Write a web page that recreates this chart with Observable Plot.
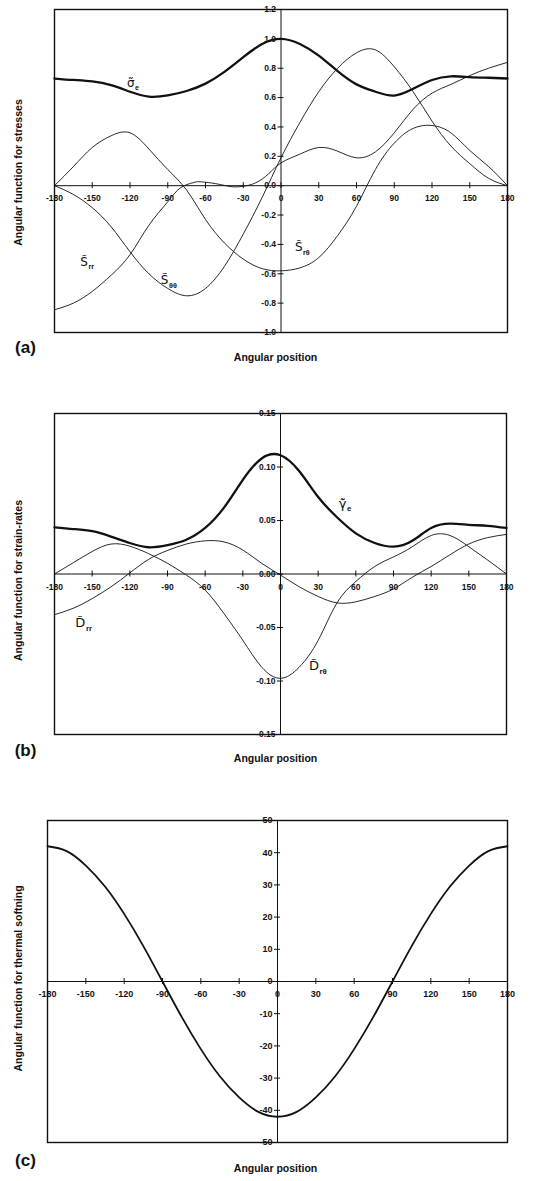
<!DOCTYPE html>
<html><head><meta charset="utf-8">
<script src="https://cdn.jsdelivr.net/npm/d3@7"></script>
<script src="https://cdn.jsdelivr.net/npm/@observablehq/plot@0.6"></script>
<style>
body{margin:0;background:#fff;font-family:"Liberation Sans",Arial,sans-serif;}
#wrap{width:549px;}
#wrap svg{display:block;}
</style></head><body><div id="wrap"></div>
<script>
// ---------- shared ----------
const xTicks = [-180,-150,-120,-90,-60,-30,0,30,60,90,120,150,180];
const theta = [-180,-165,-150,-135,-120,-105,-90,-75,-60,-45,-30,-15,0,15,30,45,60,75,90,105,120,135,150,165,180];

// ---------- panel (a): stresses ----------
const yTicksA = [-1.0,-0.8,-0.6,-0.4,-0.2,0,0.2,0.4,0.6,0.8,1.0,1.2];
const sigmaE  = [0.73,0.72,0.71,0.685,0.64,0.607,0.615,0.645,0.695,0.775,0.875,0.965,1.0,0.965,0.886,0.78,0.69,0.64,0.614,0.66,0.72,0.745,0.74,0.735,0.73];
const sThTh   = [0,-0.06,-0.15,-0.28,-0.45,-0.60,-0.70,-0.75,-0.70,-0.55,-0.33,-0.08,0.19,0.43,0.64,0.80,0.905,0.925,0.81,0.64,0.44,0.27,0.15,0.05,0];
const sRTh    = [0,0.13,0.26,0.34,0.36,0.25,0.11,-0.03,-0.23,-0.39,-0.50,-0.565,-0.58,-0.56,-0.49,-0.34,-0.14,0.11,0.29,0.39,0.41,0.36,0.24,0.13,0];
const thetaRR = [-180,-165,-150,-135,-120,-105,-90,-80,-70,-65,-55,-45,-38,-30,-20,-10,0,15,30,45,60,75,90,105,120,135,150,165,180];
const sRR     = [-0.845,-0.80,-0.72,-0.61,-0.47,-0.27,-0.11,-0.015,0.02,0.027,0.018,0.002,-0.008,-0.004,0.02,0.08,0.155,0.215,0.26,0.235,0.19,0.23,0.36,0.52,0.63,0.69,0.75,0.80,0.84];

// ---------- panel (b): strain-rates ----------
const yTicksB = [-0.15,-0.10,-0.05,0,0.05,0.10,0.15];
const gammaE  = [0.0436,0.042,0.040,0.035,0.029,0.025,0.027,0.032,0.043,0.062,0.088,0.108,0.111,0.096,0.072,0.053,0.038,0.029,0.0255,0.031,0.043,0.047,0.046,0.045,0.043];
const dRTh    = [0,0.0106,0.021,0.028,0.026,0.019,0.010,-0.001,-0.015,-0.037,-0.062,-0.087,-0.0975,-0.087,-0.062,-0.027,-0.007,0.007,0.016,0.0255,0.036,0.036,0.0255,0.013,0];
const dRR     = [-0.038,-0.032,-0.023,-0.012,0.001,0.0137,0.022,0.028,0.031,0.030,0.0224,0.010,-0.001,-0.012,-0.021,-0.027,-0.026,-0.021,-0.014,-0.003,0.007,0.018,0.028,0.034,0.037];

// ---------- panel (c): thermal softening ----------
const yTicksC = [-50,-40,-30,-20,-10,0,10,20,30,40,50];
const thermal = [42,40.5,36,29.5,21,11,0,-11,-21,-29.5,-36,-40.5,-42,-40.5,-36,-29.5,-21,-11,0,11,21,29.5,36,40.5,42];

// curve labels: symbol (with tilde), subscript, anchor (angle, value)
const labelsA = [
  {main:"σ\u0303", sub:"e",  t:-118, v:0.70},
  {main:"S\u0303", sub:"rr", t:-155, v:-0.52},
  {main:"S\u0303", sub:"θθ", t:-91,  v:-0.645},
  {main:"S\u0303", sub:"rθ", t:15.5, v:-0.42}
];
const labelsB = [
  {main:"γ\u0307\u0303", sub:"e",  t:51,   v:0.066},
  {main:"D\u0303", sub:"rr", t:-157, v:-0.046},
  {main:"D\u0303", sub:"rθ", t:29,   v:-0.086}
];

const ink = "#111";
const pts = (ts, vs) => ts.map((t, i) => ({t, v: vs[i]}));

function panel(cfg) {
  const marks = [
    Plot.ruleY([0], {stroke: ink, strokeWidth: 1}),
    Plot.ruleX([0], {stroke: ink, strokeWidth: 1}),
    Plot.ruleX(xTicks, {x: d => d, y1: 0, y2: 0, insetTop: -3, insetBottom: -3, stroke: ink, strokeWidth: 1}),
    Plot.ruleY(cfg.yTicks, {y: d => d, x1: 0, x2: 0, insetLeft: -3, insetRight: -3, stroke: ink, strokeWidth: 1}),
    ...cfg.series.map(s => Plot.line(s.data, {x: "t", y: "v", curve: "natural", stroke: ink, strokeWidth: s.w})),
    Plot.frame({stroke: ink, strokeWidth: 1.4}),
    Plot.text(xTicks, {x: d => d, y: 0, dy: 13, text: d => String(d), fontSize: cfg.tickSize, fontWeight: "bold", fill: ink}),
    Plot.text(cfg.yTicks, {x: 0, y: d => d, dx: -5, textAnchor: "end", text: cfg.fmt, fontSize: cfg.tickSize, fontWeight: "bold", fill: ink}),
    Plot.text([cfg.yTitle], {frameAnchor: "left", textAnchor: "middle", rotate: -90, dx: 18 - cfg.marginLeft, dy: cfg.yTitleDy, text: d => d, fontSize: 10.5, fontWeight: "bold", fill: ink}),
    Plot.text(["Angular position"], {frameAnchor: "bottom", dx: 275 - (cfg.marginLeft + (549 - cfg.marginRight)) / 2, dy: cfg.xTitleDy, text: d => d, fontSize: 10.5, fontWeight: "bold", fill: ink}),
    Plot.text([cfg.tag], {frameAnchor: "bottom-left", textAnchor: "middle", dx: 25 - cfg.marginLeft, dy: cfg.tagDy, text: d => d, fontSize: 17, fontWeight: "bold", fill: ink})
  ];
  for (const L of cfg.labels) {
    marks.push(Plot.text([L], {x: "t", y: "v", text: "main", textAnchor: "end", dx: 2, fontSize: cfg.labelSize, fontFamily: "DejaVu Sans", fill: ink}));
    marks.push(Plot.text([L], {x: "t", y: "v", text: "sub", dx: 2.5, dy: cfg.labelSize * 0.42, textAnchor: "start", fontSize: cfg.labelSize * 0.6, fontWeight: "bold", fill: ink}));
  }
  return Plot.plot({
    width: 549, height: cfg.height,
    marginTop: cfg.marginTop, marginBottom: cfg.marginBottom,
    marginLeft: cfg.marginLeft, marginRight: cfg.marginRight,
    x: {domain: [-180, 180], axis: null},
    y: {domain: cfg.yDomain, axis: null},
    style: {fontFamily: "'Liberation Sans', Arial, sans-serif", background: "white", overflow: "visible"},
    marks
  });
}

const wrap = document.getElementById("wrap");

wrap.append(panel({
  height: 400, marginTop: 9, marginBottom: 68, marginLeft: 54, marginRight: 42,
  yDomain: [-1.0, 1.2], yTicks: yTicksA, fmt: d => d.toFixed(1), tickSize: 8.5,
  yTitle: "Angular function for stresses", yTitleDy: 1.5, xTitleDy: 28, tag: "(a)", tagDy: 20,
  labelSize: 12,
  series: [
    {data: pts(theta, sigmaE), w: 2.3},
    {data: pts(theta, sThTh), w: 0.9},
    {data: pts(theta, sRTh), w: 0.9},
    {data: pts(thetaRR, sRR), w: 0.9}
  ],
  labels: labelsA
}));

wrap.append(panel({
  height: 400, marginTop: 13, marginBottom: 66, marginLeft: 54, marginRight: 43,
  yDomain: [-0.15, 0.15], yTicks: yTicksB, fmt: d => d.toFixed(2), tickSize: 8.5,
  yTitle: "Angular function for strain-rates", yTitleDy: 6.5, xTitleDy: 27, tag: "(b)", tagDy: 21,
  labelSize: 13,
  series: [
    {data: pts(theta, gammaE), w: 2.3},
    {data: pts(theta, dRTh), w: 0.9},
    {data: pts(theta, dRR), w: 0.9}
  ],
  labels: labelsB
}));

wrap.append(panel({
  height: 381, marginTop: 20, marginBottom: 39, marginLeft: 47, marginRight: 42,
  yDomain: [-50, 50], yTicks: yTicksC, fmt: d => String(d), tickSize: 9,
  yTitle: "Angular function for thermal softning", yTitleDy: -3, xTitleDy: 29, tag: "(c)", tagDy: 23,
  labelSize: 12,
  series: [
    {data: pts(theta, thermal), w: 1.8}
  ],
  labels: []
}));
</script></body></html>
